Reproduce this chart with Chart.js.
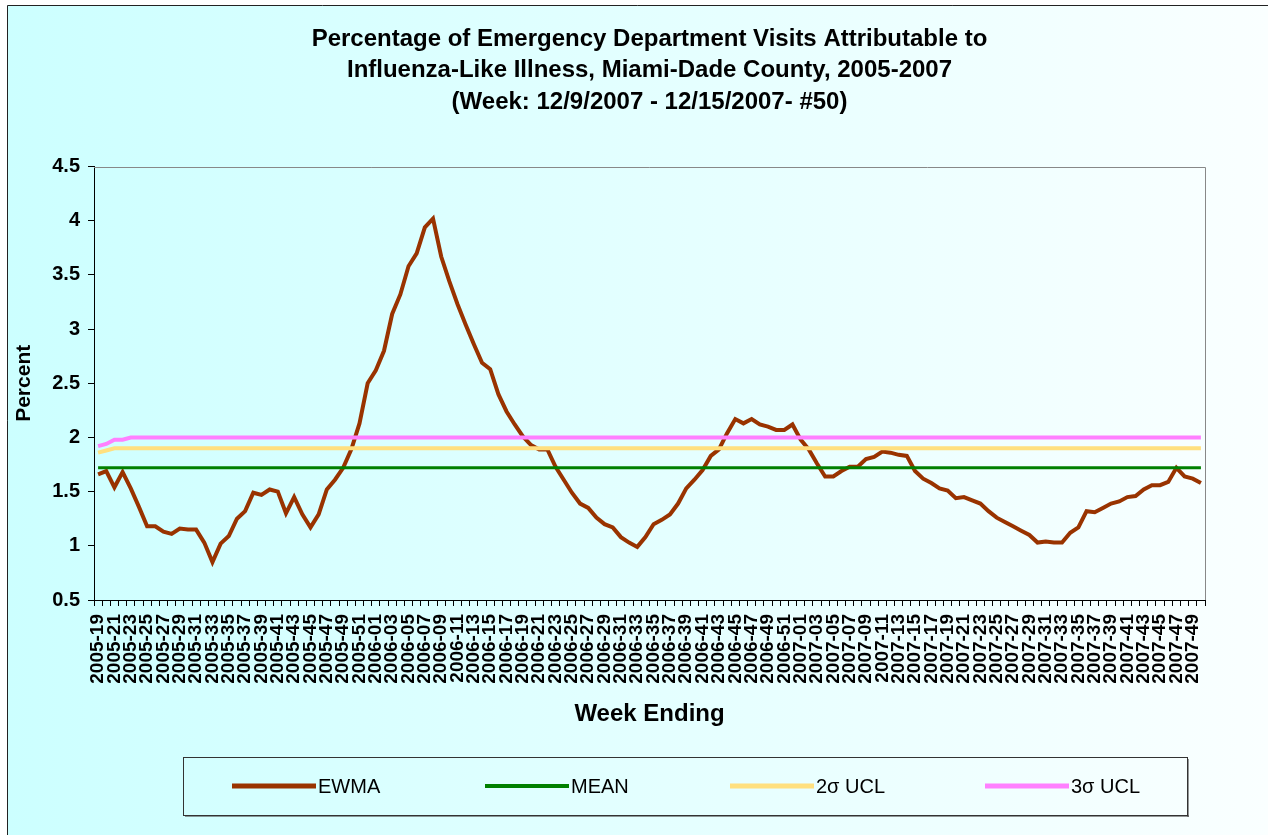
<!DOCTYPE html>
<html>
<head>
<meta charset="utf-8">
<script src="https://cdn.jsdelivr.net/npm/chart.js@4/dist/chart.umd.min.js"></script>
<style>
  html, body { margin: 0; padding: 0; background: #fff; }
  #c { display: block; }
</style>
</head>
<body>
<canvas id="c" width="1268" height="835"></canvas>
<script>
const weeks = [
  '2005-19','2005-20','2005-21','2005-22','2005-23','2005-24','2005-25','2005-26','2005-27','2005-28',
  '2005-29','2005-30','2005-31','2005-32','2005-33','2005-34','2005-35','2005-36','2005-37','2005-38',
  '2005-39','2005-40','2005-41','2005-42','2005-43','2005-44','2005-45','2005-46','2005-47','2005-48',
  '2005-49','2005-50','2005-51','2005-52',
  '2006-01','2006-02','2006-03','2006-04','2006-05','2006-06','2006-07','2006-08','2006-09','2006-10',
  '2006-11','2006-12','2006-13','2006-14','2006-15','2006-16','2006-17','2006-18','2006-19','2006-20',
  '2006-21','2006-22','2006-23','2006-24','2006-25','2006-26','2006-27','2006-28','2006-29','2006-30',
  '2006-31','2006-32','2006-33','2006-34','2006-35','2006-36','2006-37','2006-38','2006-39','2006-40',
  '2006-41','2006-42','2006-43','2006-44','2006-45','2006-46','2006-47','2006-48','2006-49','2006-50',
  '2006-51','2006-52',
  '2007-01','2007-02','2007-03','2007-04','2007-05','2007-06','2007-07','2007-08','2007-09','2007-10',
  '2007-11','2007-12','2007-13','2007-14','2007-15','2007-16','2007-17','2007-18','2007-19','2007-20',
  '2007-21','2007-22','2007-23','2007-24','2007-25','2007-26','2007-27','2007-28','2007-29','2007-30',
  '2007-31','2007-32','2007-33','2007-34','2007-35','2007-36','2007-37','2007-38','2007-39','2007-40',
  '2007-41','2007-42','2007-43','2007-44','2007-45','2007-46','2007-47','2007-48','2007-49','2007-50'
];

const ewma = [
  1.66,1.69,1.54,1.68,1.53,1.36,1.18,1.18,1.13,1.11,
  1.16,1.15,1.15,1.03,0.85,1.02,1.09,1.25,1.32,1.49,
  1.47,1.52,1.50,1.30,1.45,1.29,1.17,1.29,1.52,1.61,
  1.72,1.89,2.13,2.50,
  2.62,2.80,3.14,3.32,3.58,3.70,3.94,4.02,3.67,3.44,
  3.23,3.04,2.86,2.69,2.63,2.40,2.24,2.12,2.01,1.93,
  1.89,1.89,1.73,1.61,1.49,1.39,1.35,1.26,1.20,1.17,
  1.08,1.03,0.99,1.08,1.20,1.24,1.29,1.39,1.53,1.61,
  1.70,1.83,1.89,2.04,2.17,2.13,2.17,2.12,2.10,2.07,
  2.07,2.12,
  1.98,1.89,1.76,1.64,1.64,1.69,1.73,1.73,1.80,1.82,
  1.87,1.86,1.84,1.83,1.69,1.62,1.58,1.53,1.51,1.44,
  1.45,1.42,1.39,1.32,1.26,1.22,1.18,1.14,1.10,1.03,
  1.04,1.03,1.03,1.12,1.17,1.32,1.31,1.35,1.39,1.41,
  1.45,1.46,1.52,1.56,1.56,1.59,1.72,1.64,1.62,1.58
];

const mean = [
  1.72,1.72,1.72,1.72,1.72,1.72,1.72,1.72,1.72,1.72,
  1.72,1.72,1.72,1.72,1.72,1.72,1.72,1.72,1.72,1.72,
  1.72,1.72,1.72,1.72,1.72,1.72,1.72,1.72,1.72,1.72,
  1.72,1.72,1.72,1.72,
  1.72,1.72,1.72,1.72,1.72,1.72,1.72,1.72,1.72,1.72,
  1.72,1.72,1.72,1.72,1.72,1.72,1.72,1.72,1.72,1.72,
  1.72,1.72,1.72,1.72,1.72,1.72,1.72,1.72,1.72,1.72,
  1.72,1.72,1.72,1.72,1.72,1.72,1.72,1.72,1.72,1.72,
  1.72,1.72,1.72,1.72,1.72,1.72,1.72,1.72,1.72,1.72,
  1.72,1.72,
  1.72,1.72,1.72,1.72,1.72,1.72,1.72,1.72,1.72,1.72,
  1.72,1.72,1.72,1.72,1.72,1.72,1.72,1.72,1.72,1.72,
  1.72,1.72,1.72,1.72,1.72,1.72,1.72,1.72,1.72,1.72,
  1.72,1.72,1.72,1.72,1.72,1.72,1.72,1.72,1.72,1.72,
  1.72,1.72,1.72,1.72,1.72,1.72,1.72,1.72,1.72,1.72
];

const ucl2 = [
  1.86,1.88,1.90,1.90,1.90,1.90,1.90,1.90,1.90,1.90,
  1.90,1.90,1.90,1.90,1.90,1.90,1.90,1.90,1.90,1.90,
  1.90,1.90,1.90,1.90,1.90,1.90,1.90,1.90,1.90,1.90,
  1.90,1.90,1.90,1.90,
  1.90,1.90,1.90,1.90,1.90,1.90,1.90,1.90,1.90,1.90,
  1.90,1.90,1.90,1.90,1.90,1.90,1.90,1.90,1.90,1.90,
  1.90,1.90,1.90,1.90,1.90,1.90,1.90,1.90,1.90,1.90,
  1.90,1.90,1.90,1.90,1.90,1.90,1.90,1.90,1.90,1.90,
  1.90,1.90,1.90,1.90,1.90,1.90,1.90,1.90,1.90,1.90,
  1.90,1.90,
  1.90,1.90,1.90,1.90,1.90,1.90,1.90,1.90,1.90,1.90,
  1.90,1.90,1.90,1.90,1.90,1.90,1.90,1.90,1.90,1.90,
  1.90,1.90,1.90,1.90,1.90,1.90,1.90,1.90,1.90,1.90,
  1.90,1.90,1.90,1.90,1.90,1.90,1.90,1.90,1.90,1.90,
  1.90,1.90,1.90,1.90,1.90,1.90,1.90,1.90,1.90,1.90
];

const ucl3 = [
  1.92,1.94,1.98,1.98,2.00,2.00,2.00,2.00,2.00,2.00,
  2.00,2.00,2.00,2.00,2.00,2.00,2.00,2.00,2.00,2.00,
  2.00,2.00,2.00,2.00,2.00,2.00,2.00,2.00,2.00,2.00,
  2.00,2.00,2.00,2.00,
  2.00,2.00,2.00,2.00,2.00,2.00,2.00,2.00,2.00,2.00,
  2.00,2.00,2.00,2.00,2.00,2.00,2.00,2.00,2.00,2.00,
  2.00,2.00,2.00,2.00,2.00,2.00,2.00,2.00,2.00,2.00,
  2.00,2.00,2.00,2.00,2.00,2.00,2.00,2.00,2.00,2.00,
  2.00,2.00,2.00,2.00,2.00,2.00,2.00,2.00,2.00,2.00,
  2.00,2.00,
  2.00,2.00,2.00,2.00,2.00,2.00,2.00,2.00,2.00,2.00,
  2.00,2.00,2.00,2.00,2.00,2.00,2.00,2.00,2.00,2.00,
  2.00,2.00,2.00,2.00,2.00,2.00,2.00,2.00,2.00,2.00,
  2.00,2.00,2.00,2.00,2.00,2.00,2.00,2.00,2.00,2.00,
  2.00,2.00,2.00,2.00,2.00,2.00,2.00,2.00,2.00,2.00
];

const titleLines = [
  'Percentage of Emergency Department Visits Attributable to',
  'Influenza-Like Illness, Miami-Dade County, 2005-2007',
  '(Week: 12/9/2007 - 12/15/2007- #50)'
];
const seriesNames = ['EWMA', 'MEAN', '2\u03C3 UCL', '3\u03C3 UCL'];
const seriesColors = ['#993300', '#008000', '#FFE07F', '#FF80FF'];
const seriesWidths = [4, 3, 4, 4];
const yTickStep = 0.5;

const FONT = '"Liberation Sans", Arial, Helvetica, sans-serif';
Chart.defaults.font.family = FONT;
Chart.defaults.color = '#000';

const bgPlugin = {
  id: 'bg',
  beforeDraw(chart) {
    const ctx = chart.ctx;
    ctx.save();
    ctx.fillStyle = '#ffffff';
    ctx.fillRect(0, 0, chart.width, chart.height);
    const g = ctx.createLinearGradient(7, 0, chart.width, 0);
    g.addColorStop(0, '#CCFFFF');
    g.addColorStop(1, '#FAFFFF');
    ctx.fillStyle = g;
    ctx.fillRect(7, 5, chart.width - 7, chart.height - 5);
    ctx.strokeStyle = '#222';
    ctx.lineWidth = 1;
    ctx.beginPath();
    ctx.moveTo(7.5, chart.height);
    ctx.lineTo(7.5, 5.5);
    ctx.lineTo(chart.width, 5.5);
    ctx.stroke();
    ctx.restore();
  },
  beforeDatasetsDraw(chart) {
    const {ctx, chartArea: a} = chart;
    ctx.save();
    ctx.strokeStyle = '#888';
    ctx.lineWidth = 1;
    ctx.beginPath();
    ctx.moveTo(a.left, Math.round(a.top) + 0.5);
    ctx.lineTo(Math.round(a.right) + 0.5, Math.round(a.top) + 0.5);
    ctx.lineTo(Math.round(a.right) + 0.5, a.bottom);
    ctx.stroke();
    ctx.restore();
  }
};

const legendPlugin = {
  id: 'boxLegend',
  afterDraw(chart) {
    const ctx = chart.ctx;
    const x0 = 183, y0 = 757, w = 1004, h = 58;
    ctx.save();
    ctx.fillStyle = 'rgba(80,80,80,0.6)';
    ctx.fillRect(x0 + 2, y0 + h, w, 2);
    ctx.fillRect(x0 + w, y0 + 2, 2, h);
    ctx.strokeStyle = '#333';
    ctx.lineWidth = 1;
    ctx.strokeRect(x0 + 0.5, y0 + 0.5, w, h);
    const cy = 786;
    const starts = [232, 485, 730, 985];
    chart.data.datasets.forEach((ds, i) => {
      const sx = starts[i];
      ctx.strokeStyle = ds.borderColor;
      ctx.lineWidth = i === 1 ? 4 : 5;
      ctx.lineCap = 'butt';
      ctx.beginPath();
      ctx.moveTo(sx, cy);
      ctx.lineTo(sx + 84, cy);
      ctx.stroke();
      ctx.fillStyle = '#000';
      ctx.font = '20px ' + FONT;
      ctx.textBaseline = 'middle';
      ctx.textAlign = 'left';
      ctx.fillText(ds.label, sx + 86, cy + 1);
    });
    ctx.restore();
  }
};

new Chart(document.getElementById('c'), {
  type: 'line',
  data: {
    labels: weeks,
    datasets: [
      { label: seriesNames[0], data: ewma, borderColor: seriesColors[0], borderWidth: seriesWidths[0], order: 4 },
      { label: seriesNames[1], data: mean, borderColor: seriesColors[1], borderWidth: seriesWidths[1], order: 3 },
      { label: seriesNames[2], data: ucl2, borderColor: seriesColors[2], borderWidth: seriesWidths[2], order: 2 },
      { label: seriesNames[3], data: ucl3, borderColor: seriesColors[3], borderWidth: seriesWidths[3], order: 1 }
    ].map(d => Object.assign(d, { pointRadius: 0, pointHoverRadius: 0, tension: 0, fill: false, borderJoinStyle: 'miter' }))
  },
  options: {
    responsive: false,
    animation: false,
    devicePixelRatio: 1,
    layout: { padding: { left: 0, right: 63, top: 0, bottom: 100 } },
    plugins: {
      legend: { display: false },
      tooltip: { enabled: false },
      title: {
        display: true,
        text: titleLines,
        fullSize: false,
        color: '#000',
        font: { size: 24, weight: 'bold', lineHeight: 1.3 },
        padding: { top: 24, bottom: 49 }
      }
    },
    scales: {
      x: {
        type: 'category',
        offset: true,
        grid: { display: true, drawOnChartArea: false, drawTicks: true, tickLength: 6, color: '#000', offset: true },
        border: { display: true, color: '#000', width: 1 },
        ticks: {
          autoSkip: false, minRotation: 90, maxRotation: 90, padding: 8,
          font: { size: 19, weight: 'bold' }, color: '#000',
          callback: function (v, i) { return i % 2 === 0 ? weeks[i] : ''; }
        },
        title: { display: true, text: 'Week Ending', color: '#000', font: { size: 24, weight: 'bold', lineHeight: 1.2 }, padding: { top: 0, bottom: 6 } },
        afterFit(s) { s.height = 135; }
      },
      y: {
        min: 0.5, max: 4.5,
        grid: { display: true, drawOnChartArea: false, drawTicks: true, tickLength: 6, color: '#000' },
        border: { display: true, color: '#000', width: 1 },
        ticks: {
          stepSize: yTickStep, padding: 8, font: { size: 20, weight: 'bold' }, color: '#000',
          callback: function (v) { return String(Math.round(v * 10) / 10); }
        },
        title: { display: true, text: 'Percent', color: '#000', font: { size: 21, weight: 'bold', lineHeight: 1.2 }, padding: { top: 12, bottom: 0 } },
        afterFit(s) { s.width = 94; }
      }
    }
  },
  plugins: [bgPlugin, legendPlugin]
});
</script>
</body>
</html>
